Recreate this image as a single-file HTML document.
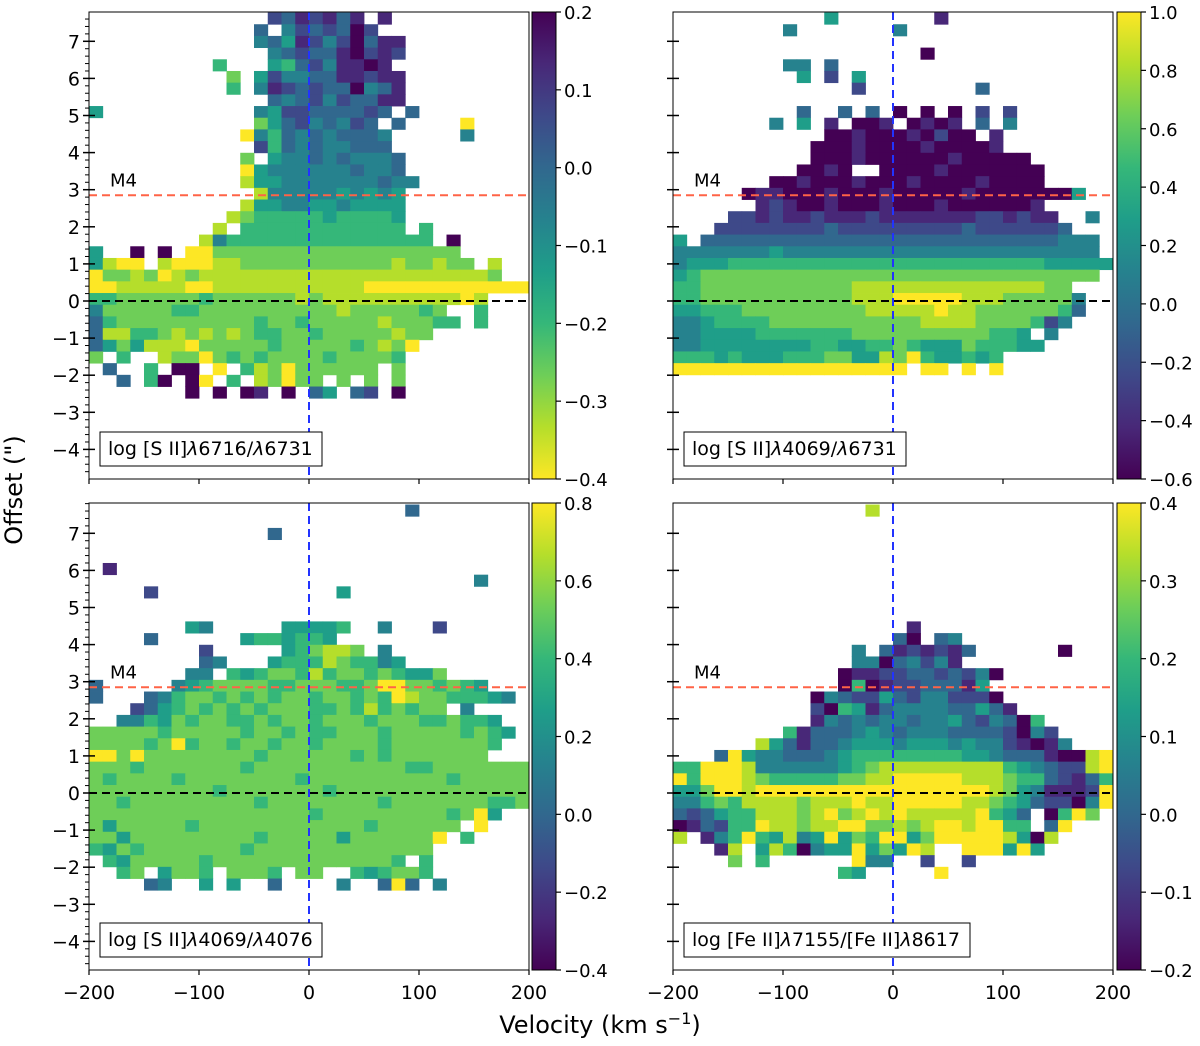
<!DOCTYPE html>
<html><head><meta charset="utf-8"><style>
body{margin:0;background:#fff;}
svg text{font-family:"DejaVu Sans","Liberation Sans",sans-serif;}
</style></head><body>
<svg id="fig" width="1200" height="1041" viewBox="0 0 1200 1041" xmlns="http://www.w3.org/2000/svg"></svg>
<script>
// ---- data ----
const velTicks = [-200, -100, 0, 100, 200];
const offTicks = [-4, -3, -2, -1, 0, 1, 2, 3, 4, 5, 6, 7];
const m4Offset = 2.85;
const gridV0 = -200, gridDV = 12.5, gridOff0 = 7.775, gridDOff = 0.315;
const cb1Ticks = [0.2, 0.1, 0.0, -0.1, -0.2, -0.3, -0.4];
const cb2Ticks = [1.0, 0.8, 0.6, 0.4, 0.2, 0.0, -0.2, -0.4, -0.6];
const cb3Ticks = [0.8, 0.6, 0.4, 0.2, 0.0, -0.2, -0.4];
const cb4Ticks = [0.4, 0.3, 0.2, 0.1, 0.0, -0.1, -0.2];
const labels = ["log [S II]<i>λ</i>6716/<i>λ</i>6731","log [S II]<i>λ</i>4069/<i>λ</i>6731","log [S II]<i>λ</i>4069/<i>λ</i>4076","log [Fe II]<i>λ</i>7155/[Fe II]<i>λ</i>8617"];
// cell colour levels (0=dark purple .. 9=yellow), '.' = empty
const grid1 = [
".............2312131.1.........",
"............3.4232302..........",
"............43512420311........",
".............4323310212........",
".........6...563241101.........",
"..........7.52443311211........",
"..........6.41232330431........",
".............3432423311........",
"5...........4522333323.3.......",
"............753243423.3....9...",
"...........94634343334.....4...",
"............2634344333.........",
"...........7.5443434443........",
"...........954444443443........",
"...........8554444444344.......",
"............84444454545........",
"...........855445545555........",
"..........8766666566665........",
".........8.666666666666.6......",
"........84666666666666666.0....",
"5..0.0.99777777777777777777....",
"5899.89998877777777777877877.8.",
"977879878888888888888888888887.",
"99888889988888888888999999999999",
"66777777677777787888888888898...",
"47777766777777777787777767..6..",
"367777777777677677777877766.6..",
"3886678787876677677777877......",
"357588897777767777767879.......",
"7.6..877976767777677776........",
".3..6.00.9.6879777777.7........",
"..3.60.09.6.87977.7.7.7........",
".......0.0.01.0.35.32.0........"
];
const grid2 = [
"...........5.......1...........",
"........4.......4..............",
"...............................",
"..................0............",
"........44.3...................",
".........5.2.5.................",
".............2........3........",
"...............................",
".........3..3.3.0.0.0.2.2......",
".......4.5.1.001.0101.3.4......",
"...........00100010200.1.......",
"..........00010000100001.......",
"..........0001000000100000.....",
".........0010..000010000000....",
".......00100010001000010000....",
".....0110001000100000100000005.",
"......121001000100010000001....",
"....221211211121111111221211..4",
"...22222222322222222232222223..",
"5.33333333333333333333333333444",
"4444444544444444444444444444444",
"45556666666666666666666666655555",
"5677777777777777777777777777777.",
"66777777777778888888888888877..",
"667777777777788899999888777774.",
"556667777777778888898877777763.",
"44566667777777777788887777624..",
"44555566666667777777777665.4...",
"445555555566556676555766655....",
"666565556667755879655656.......",
"99999999999999999.99.9.9.......",
"..............................."
];
const grid3 = [
".......................3........",
"................................",
".............3..................",
"................................",
"................................",
".1..............................",
"............................4...",
"....2.............5.............",
"................................",
"................................",
".......54.....55556..4...2......",
"....3......5665665..............",
"........2.....567887.4..........",
"........34...5666876645.........",
".......44.6567768677676557......",
"3.....45677776677766799776765...",
"3...346776767677677676987766654.",
"...23567676767776676867677.4....",
"..4465767766767767776777667665..",
"7777767777767767667776777776765.",
"777767967767767767777677777776..",
"99797777777767777776767777777...",
"77767777777677777777777667777777",
"76777767777777767777777777677777",
"77777777767777777677777777777777",
"77677777777767777777767777777667",
"777777777777777767777777776795..",
"757777767777777777776777777.9...",
"77577777777767777757777779.6....",
"6576777777767777777777777.......",
".6577777677777777777776.6.......",
"..67.5776.7776.77..656776.......",
"....34..5.5..3....4..393.4......"
];
const grid4 = [
"..............8.................",
"................................",
"................................",
"................................",
"................................",
"................................",
"................................",
"................................",
"................................",
"................................",
".................1..............",
"................30.34...........",
".............4.3121213......0...",
".............44034241...........",
"............011223323240........",
"............06012233315.........",
"..........04322532442220........",
"..........206513444433531.......",
"..........14343443445324306.....",
"........61333454344433332042....",
"......85313345554555454421014...",
"...39544333456666666655433310089",
"66999844444456788888888865432289",
"96999876666677889999988876632136",
"55799899999999999999999875411129",
"44676888878889889999988765322049",
"32356688878978989888889653.0697.",
"01326698878899778789989966.39...",
"8.14696584595769957999998508....",
"...18.5860455957598..999595.....",
"....7.6......944..2..2..........",
"............65.....9............"
];
const grids = [grid1, grid2, grid3, grid4];
const viridis = ["#440154","#482878","#3e4989","#31688e","#26828e","#1f9e89","#35b779","#6ece58","#b5de2b","#fde725"];

const NS = "http://www.w3.org/2000/svg";
const svg = document.getElementById("fig");
function mk(tag, attrs, parent){
  const e = document.createElementNS(NS, tag);
  for (const k in attrs) e.setAttribute(k, attrs[k]);
  (parent || svg).appendChild(e);
  return e;
}
const panels = [
  {x0:89, x1:529, yT:12, yB:479, y0:301, cbx:532, cbT:[...cb1Ticks], rev:true, left:true, bottom:false},
  {x0:673, x1:1113, yT:12, yB:479, y0:301, cbx:1117, cbT:[...cb2Ticks], rev:false, left:false, bottom:false},
  {x0:89, x1:529, yT:503, yB:970, y0:793, cbx:532, cbT:[...cb3Ticks], rev:false, left:true, bottom:true},
  {x0:673, x1:1113, yT:503, yB:970, y0:793, cbx:1117, cbT:[...cb4Ticks], rev:false, left:false, bottom:true}
];
const PX_PER_OFF = 37.1;
const defs = mk("defs", {});
["up","down"].forEach(function(dir){
  const g = mk("linearGradient", {id:"vir-"+dir, x1:"0", y1: dir==="up"?"1":"0", x2:"0", y2: dir==="up"?"0":"1"}, defs);
  viridis.forEach(function(c,i){ mk("stop", {offset:(i/9), "stop-color":c}, g); });
});

panels.forEach(function(p, pi){
  const xs = v => p.x0 + (v - (-200)) / 400 * (p.x1 - p.x0);
  const ys = o => p.y0 - o * PX_PER_OFF;
  const gp = mk("g", {});
  
  
  const clip = mk("clipPath", {id:"clip"+pi}, defs);
  mk("rect", {x:p.x0, y:p.yT, width:p.x1-p.x0, height:p.yB-p.yT}, clip);
  const hm = mk("g", {"clip-path":"url(#clip"+pi+")"}, gp);
  
  
  grids[pi].forEach(function(row, r){
    for (let j = 0; j < row.length; j++){
      const ch = row[j];
      if (ch === '.' || ch === ' ') continue;
      const v = gridV0 + j * gridDV;
      const oTop = gridOff0 - r * gridDOff;
      const x = xs(v), y = ys(oTop);
      const cell = mk("rect", {x:x, y:y, width:xs(v+gridDV)-x+0.4, height:ys(oTop-gridDOff)-y+0.4, fill:viridis[+ch]}, hm);
      
      
    }
  });
  const hl = mk("line", {x1:p.x0, x2:p.x1, y1:ys(0), y2:ys(0), stroke:"#000", "stroke-width":2, "stroke-dasharray":"8,5"}, gp);
   
  const m4 = mk("line", {x1:p.x0, x2:p.x1, y1:ys(m4Offset), y2:ys(m4Offset), stroke:"#ff6347", "stroke-width":2, "stroke-dasharray":"8,5"}, gp);
   
  const vl = mk("line", {x1:xs(0), x2:xs(0), y1:p.yT, y2:p.yB, stroke:"#2233ff", "stroke-width":2, "stroke-dasharray":"8,5"}, gp);
   
  const m4t = mk("text", {x:p.x0+21, y:ys(m4Offset)-9, "font-size":18}, gp);
  m4t.textContent = "M4";
   
  const fr = mk("rect", {x:p.x0, y:p.yT, width:p.x1-p.x0, height:p.yB-p.yT, fill:"none", stroke:"#000", "stroke-width":1}, gp);
   
  for (let m = -24; m <= 39; m++){
    const o = m * 0.2, y = ys(o);
    if (y < p.yT || y > p.yB) continue;
    if (m % 5 !== 0 && p.left) mk("line", {x1:p.x0-4, x2:p.x0, y1:y, y2:y, stroke:"#000", "stroke-width":1}, gp);
  }
  offTicks.forEach(function(o){
    const y = ys(o);
    mk("line", {x1:p.x0-6, x2:p.x0+6, y1:y, y2:y, stroke:"#000", "stroke-width":1.5}, gp);
    if (p.left){
      const t = mk("text", {x:p.x0-9, y:y+7, "font-size":19, "text-anchor":"end"}, gp);
      t.textContent = (o < 0 ? "\u2212" + (-o) : "" + o);
       
    }
  });
  velTicks.forEach(function(v){
    const x = xs(v);
    mk("line", {x1:x, x2:x, y1:p.yB, y2:p.yB+5, stroke:"#000", "stroke-width":1.2}, gp);
    if (p.bottom){
      const t = mk("text", {x:x, y:p.yB+29, "font-size":19, "text-anchor":"middle"}, gp);
      t.textContent = (v < 0 ? "\u2212" + (-v) : "" + v);
       
    }
  });
  const lw = [222, 222, 222, 286][pi];
  const lb = mk("rect", {x:p.x0+11, y:p.yB-47, width:lw, height:34, fill:"#fff", stroke:"#000", "stroke-width":1}, gp);
   
  const fo = mk("foreignObject", {x:p.x0+11, y:p.yB-47, width:lw, height:34}, gp);
  const d = document.createElement("div");
  d.style.cssText = "font:19px 'DejaVu Sans','Liberation Sans',sans-serif;line-height:34px;padding-left:8px;white-space:nowrap;";
  d.innerHTML = labels[pi];
  
  
  fo.appendChild(d);
  const cbw = 24;
  const cb = mk("rect", {x:p.cbx, y:p.yT, width:cbw, height:p.yB-p.yT, fill:p.rev?"url(#vir-down)":"url(#vir-up)", stroke:"#000", "stroke-width":1}, gp);
   
  const n = p.cbT.length;
  p.cbT.forEach(function(v, i){
    const y = p.yT + i * (p.yB - p.yT) / (n - 1);
    mk("line", {x1:p.cbx+cbw, x2:p.cbx+cbw+5, y1:y, y2:y, stroke:"#000", "stroke-width":1.2}, gp);
    const t = mk("text", {x:p.cbx+cbw+8, y:y+7, "font-size":18}, gp);
    t.textContent = (v < 0 ? "\u2212" : "") + Math.abs(v).toFixed(1);
     
  });
});
const xt = mk("text", {x:600, y:1033, "font-size":24, "text-anchor":"middle"});
xt.innerHTML = 'Velocity (km s<tspan dy="-9" font-size="16">\u22121</tspan><tspan dy="9">)</tspan>';
 
const yt = mk("text", {x:0, y:0, "font-size":24, "text-anchor":"middle", transform:"translate(22,490) rotate(-90)"});
yt.textContent = 'Offset (")';
 
</script>
</body></html>
